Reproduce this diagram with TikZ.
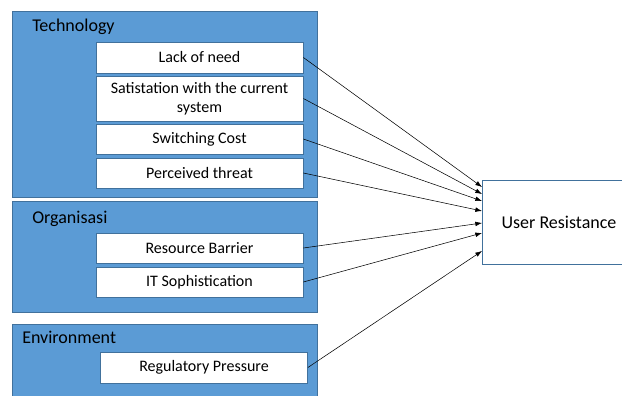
\documentclass[tikz,border=0pt]{standalone}
\usepackage{fontspec}
\setmainfont{Carlito}
\usetikzlibrary{arrows.meta}
\definecolor{boxblue}{HTML}{5B9BD5}
\definecolor{edgeblue}{HTML}{41719C}
\begin{document}
\begin{tikzpicture}[x=0.75pt, y=-0.75pt,
            group/.style={draw=edgeblue, fill=boxblue, line width=0.75pt, minimum width=228.75pt, inner sep=0pt},
            grouplabel/.style={anchor=west, inner sep=0pt, font=\fontsize{13.5}{16}\selectfont},
            factor/.style={draw=edgeblue, fill=white, line width=0.6pt, minimum width=155.25pt, minimum height=22.5pt, inner sep=1pt, align=center, font=\fontsize{12}{14.5}\selectfont},
            outcome/.style={draw=edgeblue, fill=white, line width=0.6pt, minimum width=115.5pt, minimum height=63pt, font=\fontsize{13.5}{16}\selectfont},
            link/.style={-{Latex[length=5pt,width=3.5pt]}, line width=0.4pt}]
            \useasboundingbox (0,0) rectangle (622,396);
            % groups
            \node[group, minimum height=139.5pt] (tech) at (164.5, 104) {};
            \node[group, minimum height=83.25pt] (org) at (164.5, 256.5) {};
            \node[group, minimum height=57pt] (env) at (164.5, 362) {};
            \node[grouplabel] (techlabel) at (32, 27) {Technology};
            \node[grouplabel] (orglabel) at (32, 219) {Organisasi};
            \node[grouplabel] (envlabel) at (22, 337) {Environment};
            % factors
            \node[factor, minimum height=23.25pt] (need) at (199.5, 57.5) {Lack of need};
            \node[factor, minimum height=33.75pt] (satis) at (199.5, 98.5) {Satistation with the current\\system};
            \node[factor] (cost) at (199.5, 139) {Switching Cost};
            \node[factor] (threat) at (199.5, 173) {Perceived threat};
            \node[factor] (barrier) at (199.5, 248) {Resource Barrier};
            \node[factor] (soph) at (199.5, 282) {IT Sophistication};
            \node[factor, minimum height=23.25pt] (press) at (204, 367.5) {Regulatory Pressure};
            % outcome
            \node[outcome] (resist) at (559, 222) {User Resistance};
            \coordinate (in1) at (482, 187);
            \coordinate (in2) at (482, 194);
            \coordinate (in3) at (482, 201);
            \coordinate (in4) at (482, 211);
            \coordinate (in5) at (482, 223);
            \coordinate (in6) at (482, 233);
            \coordinate (in7) at (482, 251);
            \draw[link] (need.east) -- (in1);
            \draw[link] (satis.east) -- (in2);
            \draw[link] (cost.east) -- (in3);
            \draw[link] (threat.east) -- (in4);
            \draw[link] (barrier.east) -- (in5);
            \draw[link] (soph.east) -- (in6);
            \draw[link] (press.east) -- (in7);
            \end{tikzpicture}
\end{document}
